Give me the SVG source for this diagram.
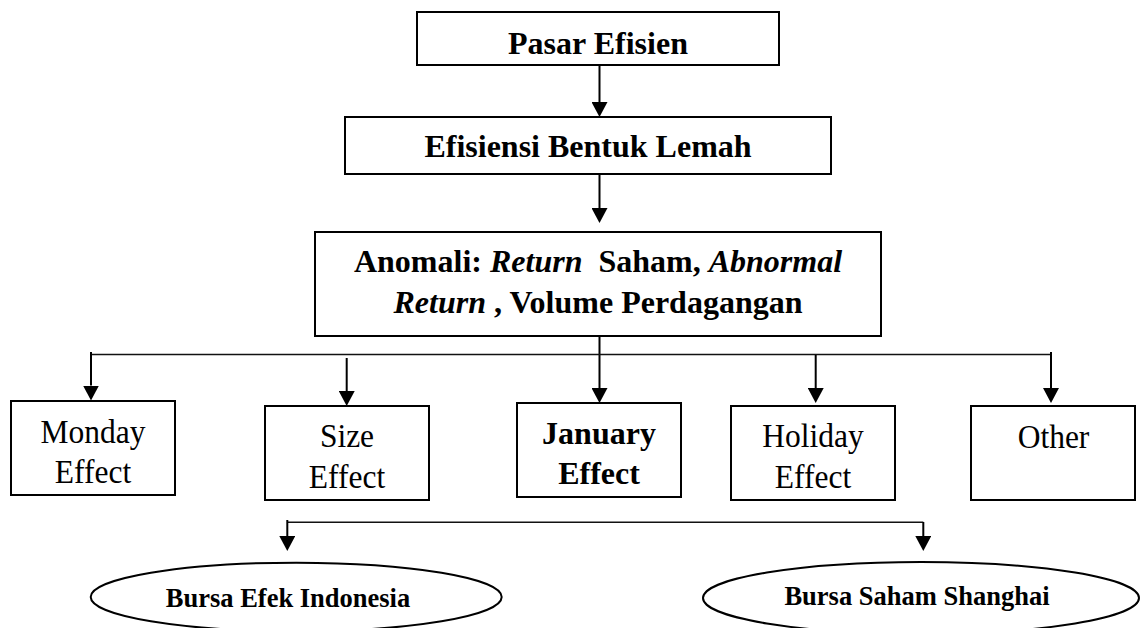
<svg xmlns="http://www.w3.org/2000/svg" width="1143" height="628" viewBox="0 0 1143 628">
<style>
  text { font-family: "Liberation Serif", "Times New Roman", serif; fill: #000; text-anchor: middle; white-space: pre; }
  .b { font-weight: bold; font-size: 32px; }
  .r { font-size: 31.5px; }
  .s { font-weight: bold; font-size: 26.5px; }
  .i { font-style: italic; }
  .box { fill: #fff; stroke: #000; stroke-width: 2; }
  .ell { fill: #fff; stroke: #000; stroke-width: 2; }
  .ln { fill: none; stroke: #000; stroke-width: 2; }
  .bus { fill: none; stroke: #111; stroke-width: 1.6; }
</style>
<defs>
  <marker id="ah" viewBox="0 0 15 16" refX="0" refY="8" markerWidth="15" markerHeight="16" markerUnits="userSpaceOnUse" orient="auto">
    <path d="M0,0 L15,8 L0,16 Z" fill="#000"/>
  </marker>
</defs>
<rect width="1143" height="628" fill="#fff"/>

<g id="connectors">
  <line class="ln" x1="599.5" y1="65" x2="599.5" y2="102" marker-end="url(#ah)"/>
  <line class="ln" x1="599.5" y1="174" x2="599.5" y2="208" marker-end="url(#ah)"/>
  <line class="ln" x1="599.5" y1="336" x2="599.5" y2="388" marker-end="url(#ah)"/>
  <line class="bus" x1="91" y1="354.5" x2="1051" y2="354.5"/>
  <line class="ln" x1="91" y1="352" x2="91" y2="385.5" marker-end="url(#ah)"/>
  <line class="ln" x1="346.7" y1="358" x2="346.7" y2="391" marker-end="url(#ah)"/>
  <line class="ln" x1="815.7" y1="355" x2="815.7" y2="388" marker-end="url(#ah)"/>
  <line class="ln" x1="1051" y1="352" x2="1051" y2="388" marker-end="url(#ah)"/>
  <line class="bus" x1="287.3" y1="522.3" x2="923.3" y2="522.3"/>
  <line class="ln" x1="287.3" y1="520" x2="287.3" y2="536" marker-end="url(#ah)"/>
  <line class="ln" x1="923.3" y1="522" x2="923.3" y2="536" marker-end="url(#ah)"/>
</g>

<g id="pasar-efisien">
  <rect class="box" x="417" y="12" width="362" height="53"/>
  <text class="b" x="598" y="53.5">Pasar Efisien</text>
</g>

<g id="efisiensi-bentuk-lemah">
  <rect class="box" x="345" y="117" width="486" height="57"/>
  <text class="b" x="588" y="156.5">Efisiensi Bentuk Lemah</text>
</g>

<g id="anomali">
  <rect class="box" x="315" y="232" width="566" height="104"/>
  <text class="b" x="598" y="271.5">Anomali: <tspan class="i">Return</tspan>  Saham, <tspan class="i">Abnormal</tspan></text>
  <text class="b" x="598" y="313.3"><tspan class="i">Return</tspan> , Volume Perdagangan</text>
</g>

<g id="monday-effect">
  <rect class="box" x="11" y="401" width="164" height="94"/>
  <text class="r" transform="translate(93,442.7) scale(1,1.07)">Monday</text>
  <text class="r" transform="translate(93,483.3) scale(1,1.07)">Effect</text>
</g>

<g id="size-effect">
  <rect class="box" x="265" y="406" width="164" height="94"/>
  <text class="r" transform="translate(347,446.7) scale(1,1.07)">Size</text>
  <text class="r" transform="translate(347,488.3) scale(1,1.07)">Effect</text>
</g>

<g id="january-effect">
  <rect class="box" x="517" y="403" width="164" height="94"/>
  <text class="b" x="599" y="444">January</text>
  <text class="b" x="599" y="483.5">Effect</text>
</g>

<g id="holiday-effect">
  <rect class="box" x="731" y="406" width="164" height="94"/>
  <text class="r" transform="translate(813,446.7) scale(1,1.07)">Holiday</text>
  <text class="r" transform="translate(813,488) scale(1,1.07)">Effect</text>
</g>

<g id="other">
  <rect class="box" x="971" y="406" width="164" height="94"/>
  <text class="r" transform="translate(1053.5,447.7) scale(1,1.07)">Other</text>
</g>

<g id="bursa-efek-indonesia">
  <ellipse class="ell" cx="296.2" cy="597" rx="205.5" ry="34.3"/>
  <text class="s" x="288" y="607.3">Bursa Efek Indonesia</text>
</g>

<g id="bursa-saham-shanghai">
  <ellipse class="ell" cx="921" cy="598" rx="218" ry="36"/>
  <text class="s" x="917" y="605">Bursa Saham Shanghai</text>
</g>
</svg>
